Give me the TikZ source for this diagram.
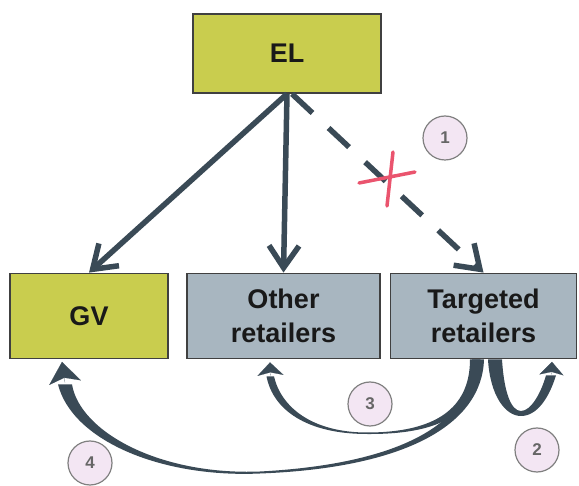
\documentclass[tikz,border=0pt]{standalone}
\usepackage{fontspec}
\setmainfont{Liberation Sans}
\usetikzlibrary{arrows.meta,calc}
\definecolor{olivebox}{RGB}{201,205,78}
\definecolor{greybox}{RGB}{168,182,192}
\definecolor{arrowc}{RGB}{58,74,86}
\definecolor{circfill}{RGB}{243,230,243}
\definecolor{redx}{RGB}{234,84,110}
\begin{document}
\begin{tikzpicture}[x=1pt,y=-1pt,
  box/.style={draw=black!75, line width=1.8pt, minimum width=#1, minimum height=85pt,
    inner sep=0pt, font=\fontsize{27}{34}\selectfont\bfseries, align=center, text=black!90},
  sarrow/.style={draw=arrowc, line width=5.5pt, -{Straight Barb[length=22pt,width=30pt]}},
  numc/.style={circle, draw=black!50, line width=1.2pt, fill=circfill, minimum size=44pt,
    inner sep=0pt, font=\fontsize{17}{17}\selectfont\bfseries, text=black!60},
  headA/.style={draw=arrowc, fill=arrowc, line width=0.1pt}]
\useasboundingbox (0,0) rectangle (579,486);

% boxes
\node[box=188pt, minimum height=79pt, fill=olivebox] (el) at (287,53.5) {EL};
\node[box=158pt, fill=olivebox] (gv) at (89,316) {GV};
\node[box=193pt, fill=greybox] (or) at (283.5,316) {Other\\retailers};
\node[box=186pt, fill=greybox] (tr) at (483.5,316) {Targeted\\retailers};

% straight arrows
\draw[sarrow] (el.south) -- (gv.north);
\draw[sarrow] (el.south) -- (or.north);
\draw[sarrow, dash pattern=on 28pt off 22pt] ([xshift=5pt]el.south) -- (tr.north);

% red cross
\coordinate (xc) at (389,179);
\draw[redx, line width=3.5pt, line cap=round] ($(xc)+(-30,4)$) -- ($(xc)+(26,-7)$);
\draw[redx, line width=3.5pt, line cap=round] ($(xc)+(4,-27)$) -- ($(xc)+(-2,27)$);

% arrow 4: targeted -> GV
\fill[arrowc] ($(tr.south)+(0.5,0)$) .. controls (482,425) and (405,468) .. (260,473.5)
  .. controls (160,478) and (72,440) .. ($(gv.south)+(-31,25)$)
  -- ($(gv.south)+(-17,25)$) .. controls (80,432) and (160,475.5) .. (260,471.5)
  .. controls (402,464) and (474,422) .. ($(tr.south)+(-11.5,0)$) -- cycle;
\draw[headA, -{Stealth[length=21pt,width=32pt,inset=5pt]}] ($(gv.south)+(-24,23)$) -- ($(gv.south)+(-27,2.5)$);

% arrow 3: targeted -> other
\fill[arrowc] ($(tr.south)+(-3,0)$) .. controls (479,414) and (440,434.5) .. (367,434)
  .. controls (307,434) and (273,410) .. ($(or.south)+(-17,17)$)
  -- ($(or.south)+(-9.5,17)$) .. controls (281,407) and (312,432.5) .. (367,432.5)
  .. controls (436,432.5) and (470,408) .. ($(tr.south)+(-13.5,0)$) -- cycle;
\draw[headA, -{Stealth[length=13pt,width=26pt,inset=3pt]}] ($(or.south)+(-13,16)$) -- ($(or.south)+(-13.5,3)$);

% arrow 2: loop on targeted
\fill[arrowc] ($(tr.south)+(4.5,0)$) .. controls (490,395) and (505,416) .. (521,416)
  .. controls (537,416) and (549,398) .. ($(tr.south)+(72.5,16)$)
  -- ($(tr.south)+(62.5,16)$) .. controls (541,393) and (531,411) .. (521,411)
  .. controls (511,411) and (504,392) .. ($(tr.south)+(18.5,0)$) -- cycle;
\draw[headA, -{Stealth[length=13pt,width=24pt,inset=3pt]}] ($(tr.south)+(68,15)$) -- ($(tr.south)+(68.5,2.5)$);

% number circles
\node[numc] (n1) at (445,138) {1};
\node[numc] (n2) at (537,450) {2};
\node[numc] (n3) at (370,404) {3};
\node[numc] (n4) at (90,463) {4};
\end{tikzpicture}
\end{document}
